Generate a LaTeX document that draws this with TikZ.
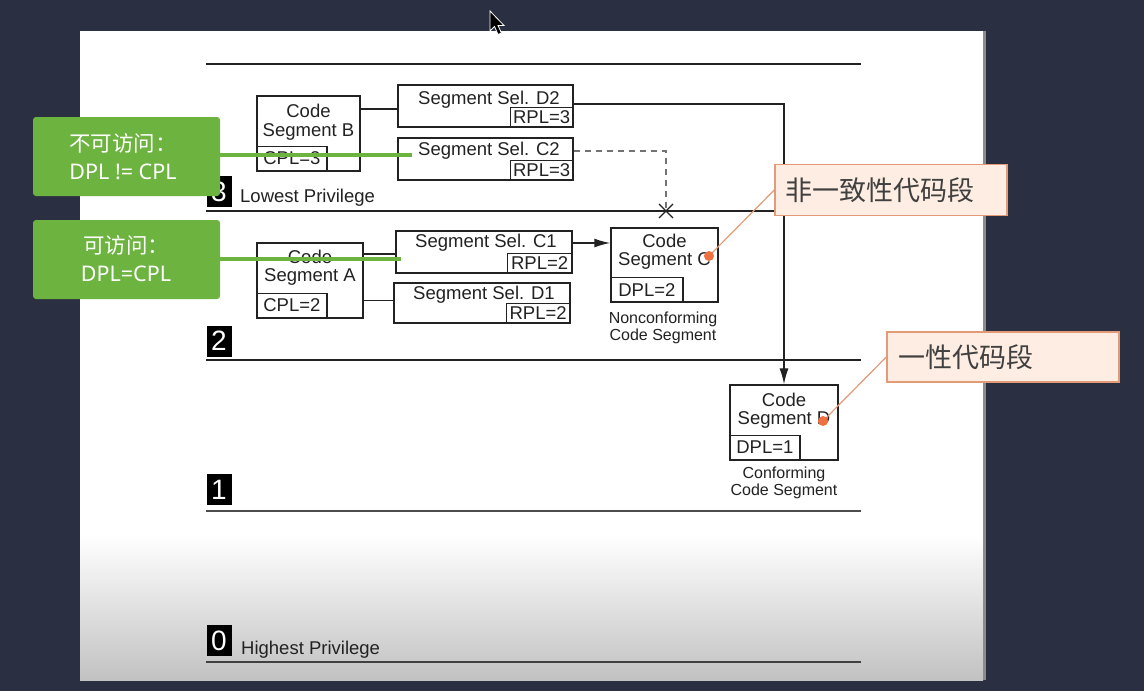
\documentclass[tikz,border=0pt]{standalone}
\usepackage{fontspec}
\setmainfont{Liberation Sans}
\newfontfamily\cjk{Noto Sans CJK SC}
\newfontfamily\gl{Noto Sans}
\usetikzlibrary{shapes.geometric,calc,arrows.meta}
\definecolor{bgdark}{HTML}{2B2F42}
\definecolor{gbox}{HTML}{6DB33F}
\definecolor{ofill}{HTML}{FDEDE2}
\definecolor{oline}{HTML}{E39A76}
\definecolor{odot}{HTML}{F07040}
\definecolor{ink}{HTML}{222222}
\tikzset{
  box/.style={draw=ink, line width=1.4pt, fill=white, inner sep=0pt},
  inbox/.style={draw=ink, line width=1.2pt, inner sep=0pt},
  lbl/.style={font=\fontsize{18.5}{18.5}\selectfont, text=ink, inner sep=0pt, align=center},
  small/.style={font=\fontsize{16}{17}\selectfont, text=ink, inner sep=0pt, align=center},
  ring/.style={fill=black, text=white, minimum width=25, minimum height=31, inner sep=0pt, font=\fontsize{28}{28}\selectfont},
  level/.style={draw=ink, line width=2.2pt},
  conn/.style={draw=ink, line width=1.5pt},
  tip/.style={-{Latex[length=16pt,width=9pt]}},
  gcall/.style={fill=gbox, rounded corners=3pt, inner sep=0pt},
  gtext/.style={text=white, font=\fontsize{21.5}{28}\selectfont, inner sep=0pt, align=center},
  gline/.style={draw=gbox, line width=3.5pt},
  ocall/.style={fill=ofill, draw=oline, line width=1.5pt, inner sep=0pt},
  otext/.style={text=black!75, font=\cjk\fontsize{27}{30}\selectfont, inner sep=0pt},
  oconn/.style={draw=oline, line width=1.2pt},
}
\begin{document}
\begin{tikzpicture}[x=1pt,y=-1pt]
\useasboundingbox (0,0) rectangle (1144,691);
\fill[bgdark] (0,0) rectangle (1144,691);
% page
\fill[white] (80,31) rectangle (983,535);
\shade[top color=white, bottom color=black!24] (80,535) rectangle (983,680);
\draw[black!45, line width=3pt] (984.5,31) -- (984.5,680);
% mouse cursor
\filldraw[fill=black, draw=white!80, line width=0.8pt] (490,11) -- (490,31) -- (494.5,26.5) -- (498,34.5) -- (501.5,33) -- (498,25.5) -- (504,25.5) -- cycle;

% level lines
\draw[level, line width=1.8pt] (206,64) -- (861,64);
\draw[level] (206,211) -- (861,211);
\draw[level] (206,360) -- (861,360);
\draw[level, draw=black!70, line width=1.4pt] (206,511) -- (861,511);
\draw[level, draw=black!75, line width=1.8pt] (206,662) -- (861,662);

% ring labels
\node[ring] (r3) at (219,191.5) {3};
\node[lbl, anchor=west] (l3) at (240,198) {Lowest Privilege};
\node[ring] (r2) at (219,341) {2};
\node[ring] (r1) at (219,489.5) {1};
\node[ring] (r0) at (219,640.5) {0};
\node[lbl, anchor=west] (l0) at (241,650) {Highest Privilege};

% Code segment B
\node[box, minimum width=103, minimum height=75] (B) at (308.5,133.5) {};
\node[lbl] (Bt) at (308.5,122) {Code\\Segment B};
\node[inbox, minimum width=70, minimum height=25, anchor=south west] (Bc) at (B.south west) {};
\node[lbl] (Bct) at (Bc) {CPL=3};

% Segment Sel D2
\node[box, minimum width=175, minimum height=42] (D2) at (485.5,106) {};
\node[lbl] (D2t) at (489,100) {Segment Sel. D2};
\node[inbox, minimum width=63, minimum height=20, anchor=south east] (D2r) at (D2.south east) {};
\node[lbl] (D2rt) at (D2r) {RPL=3};

% Segment Sel C2
\node[box, minimum width=175, minimum height=42] (C2) at (485.5,159) {};
\node[lbl] (C2t) at (489,151) {Segment Sel. C2};
\node[inbox, minimum width=63, minimum height=20, anchor=south east] (C2r) at (C2.south east) {};
\node[lbl] (C2rt) at (C2r) {RPL=3};

% Code segment A
\node[box, minimum width=106, minimum height=75] (A) at (310,280.5) {};
\node[lbl] (At) at (310,267.5) {Code\\Segment A};
\node[inbox, minimum width=70, minimum height=25, anchor=south west] (Ac) at (A.south west) {};
\node[lbl] (Act) at (Ac) {CPL=2};

% Segment Sel C1
\node[box, minimum width=176, minimum height=42] (C1) at (484,252) {};
\node[lbl] (C1t) at (486,243) {Segment Sel. C1};
\node[inbox, minimum width=65, minimum height=20, anchor=south east] (C1r) at (C1.south east) {};
\node[lbl] (C1rt) at (C1r) {RPL=2};

% Segment Sel D1
\node[box, minimum width=176, minimum height=40] (D1) at (482,303) {};
\node[lbl] (D1t) at (484,295) {Segment Sel. D1};
\node[inbox, minimum width=64, minimum height=20, anchor=south east] (D1r) at (D1.south east) {};
\node[lbl] (D1rt) at (D1r) {RPL=2};

% Code segment C
\node[box, minimum width=107, minimum height=74] (C) at (664.5,265) {};
\node[lbl] (Ct) at (664.5,251.5) {Code\\Segment C};
\node[inbox, minimum width=72, minimum height=25, anchor=south west] (Cd) at (C.south west) {};
\node[lbl] (Cdt) at (Cd) {DPL=2};
\node[small] (Cn) at (663,327.5) {Nonconforming\\Code Segment};

% Code segment D
\node[box, minimum width=108, minimum height=75] (D) at (784,422.5) {};
\node[lbl] (Dt) at (784,410.5) {Code\\Segment D};
\node[inbox, minimum width=70, minimum height=25, anchor=south west] (Dd) at (D.south west) {};
\node[lbl] (Ddt) at (Dd) {DPL=1};
\node[small] (Dn) at (784,482.5) {Conforming\\Code Segment};

% connectors
\draw[conn, line width=2pt] (B.east |- 0,109) -- (D2.west |- 0,109);
\draw[conn, line width=2pt] (A.east |- 0,254) -- (C1.west |- 0,254);
\draw[conn, line width=1pt] (A.east |- 0,300) -- (D1.west |- 0,300);
\coordinate (c1a) at (C1.east |- 0,243);
\draw[conn, tip] (c1a) -- (c1a -| C.west);
\coordinate (d2a) at (D2.east |- 0,104);
\draw[conn, line width=1.3pt, tip] (d2a) -- (d2a -| D.north) -- (D.north);
\coordinate (xm) at (666,211);
\coordinate (c2a) at (C2.east |- 0,151);
\draw[draw=black!55, line width=1.2pt, dashed, dash pattern=on 6pt off 5pt] (c2a) -- (c2a -| xm) -- (xm);
\draw[draw=ink, line width=1.2pt] ($(xm)+(-7,-7)$) -- ($(xm)+(7,7)$) ($(xm)+(-7,7)$) -- ($(xm)+(7,-7)$);

% green callouts
\node[gcall, minimum width=187, minimum height=79] (g1) at (126.5,156.5) {};
\node[gtext] (g1t) at (123,157) {{\cjk 不可访问：}\\{\gl DPL != CPL}};
\coordinate (g1e) at (412,155);
\draw[gline] (g1.east |- g1e) -- (g1e);
\node[gcall, minimum width=187, minimum height=79] (g2) at (126.5,259.5) {};
\node[gtext] (g2t) at (126,258.5) {{\cjk 可访问：}\\{\gl DPL=CPL}};
\coordinate (g2e) at (401,259);
\draw[gline] (g2.east |- g2e) -- (g2e);

% orange callouts
\coordinate (dc) at (709,256);
\coordinate (dd) at (823,421);
\node[ocall, minimum width=232, minimum height=51] (o1) at (891,190) {};
\node[otext] (o1t) at (880,190) {非一致性代码段};
\draw[oconn] (o1.west) -- (dc);
\fill[odot] (dc) circle (5);
\node[ocall, minimum width=232, minimum height=50] (o2) at (1003,357) {};
\node[otext] (o2t) at (966,357) {一性代码段};
\draw[oconn] (o2.west) -- (dd);
\fill[odot] (dd) circle (5);
\end{tikzpicture}
\end{document}
